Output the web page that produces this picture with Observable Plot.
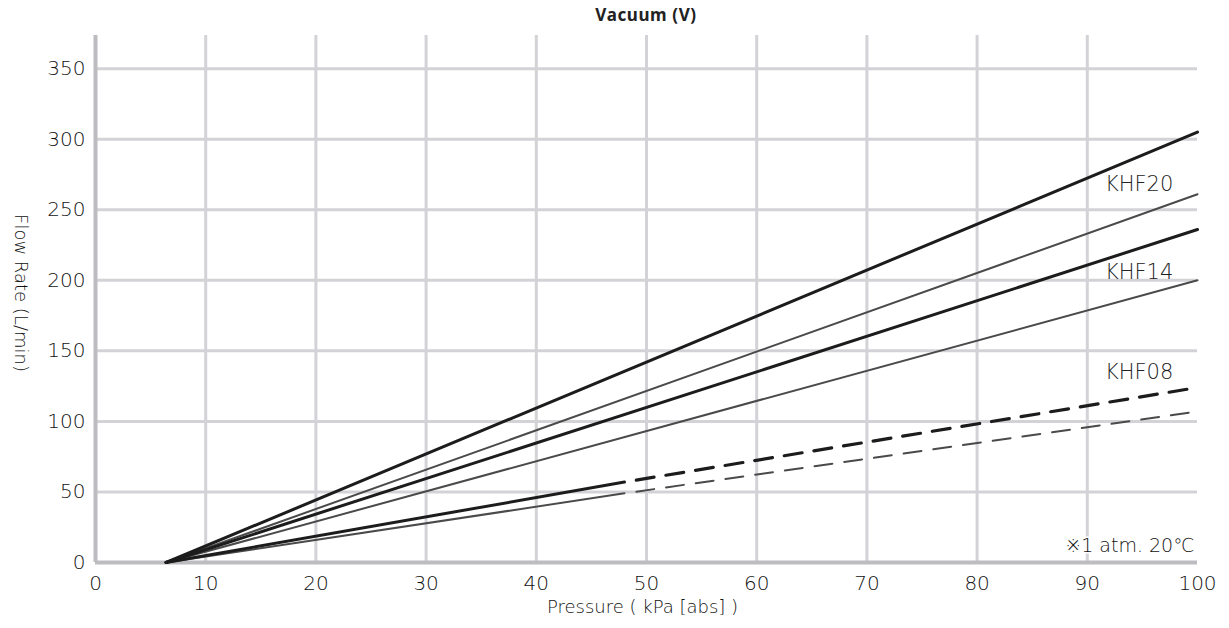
<!DOCTYPE html>
<html>
<head>
<meta charset="utf-8">
<script src="https://cdn.jsdelivr.net/npm/d3@7"></script>
<script src="https://cdn.jsdelivr.net/npm/@observablehq/plot@0.6"></script>
<style>
  html, body { margin: 0; padding: 0; background: #fff; }
  #title { width: 1229px; height: 35px; box-sizing: border-box; padding-left: 63px; padding-top: 3px;
           text-align: center; font: bold 17px "Noto Sans", "DejaVu Sans", sans-serif; letter-spacing: 0.6px; color: #222; }
  #chart svg { display: block; }
</style>
</head>
<body>
<div id="title">Vacuum (V)</div>
<div id="chart"></div>
<script>
// ---- data ----
const seriesNames = ["KHF20 a", "KHF20 b", "KHF14 a", "KHF14 b", "KHF08 a", "KHF08 b"];
const seriesWeight = ["thick", "thin", "thick", "thin", "thick", "thin"];
const startX = 6.4;               // all curves start at 0 L/min
const solidEndX = [100, 100, 100, 100, 48, 48];
const solidEndY = [305, 261, 236, 200, 57, 49];
const dashEndX = [null, null, null, null, 100, 100];
const dashEndY = [null, null, null, null, 124, 107];
const modelLabels = ["KHF20", "KHF14", "KHF08"];
const modelLabelY = [268, 206, 135];
const xTicks = [0, 10, 20, 30, 40, 50, 60, 70, 80, 90, 100];
const yTicks = [0, 50, 100, 150, 200, 250, 300, 350];
const note = "※1 atm. 20℃";

// ---- build tables ----
const solid = [];
const dashed = [];
seriesNames.forEach((s, i) => {
  solid.push({s, w: seriesWeight[i], x: startX, y: 0});
  solid.push({s, w: seriesWeight[i], x: solidEndX[i], y: solidEndY[i]});
  if (dashEndX[i] != null) {
    dashed.push({s, w: seriesWeight[i], x: solidEndX[i], y: solidEndY[i]});
    dashed.push({s, w: seriesWeight[i], x: dashEndX[i], y: dashEndY[i]});
  }
});
const labels = modelLabels.map((t, i) => ({t, y: modelLabelY[i]}));

const font = '"DejaVu Sans ExtraLight", "DejaVu Sans", sans-serif';
const gridColor = "#d3d3d7";
const ink = "#111";

const chart = Plot.plot({
  width: 1229,
  height: 593,
  marginTop: 0,
  marginLeft: 95,
  marginRight: 32,
  marginBottom: 66,
  style: {fontFamily: font, fontWeight: 200, fontSize: "20px", color: ink, background: "#fff"},
  x: {domain: [0, 100], ticks: xTicks, tickSize: 0, tickPadding: 13, label: null},
  y: {domain: [0, 373.5], ticks: yTicks, tickSize: 0, tickPadding: 10, label: null},
  marks: [
    Plot.ruleX(xTicks.filter(d => d > 0 && d < 100), {stroke: gridColor, strokeWidth: 3}),
    Plot.ruleY(yTicks.filter(d => d > 0), {x1: 0, x2: 100, stroke: gridColor, strokeWidth: 3}),
    Plot.ruleX([0], {stroke: "#bcbcc1", strokeWidth: 4}),
    Plot.ruleY([0], {x1: 0, x2: 100, stroke: "#bcbcc1", strokeWidth: 4}),
    Plot.axisX({ticks: xTicks, tickSize: 0, tickPadding: 13, fontSize: 20, letterSpacing: 1, fill: ink}),
    Plot.axisY({ticks: yTicks, tickSize: 0, tickPadding: 10, fontSize: 20, letterSpacing: 1, fill: ink}),
    Plot.line(solid.filter(d => d.w === "thin"), {x: "x", y: "y", z: "s", stroke: "#4a4a4a", strokeWidth: 2}),
    Plot.line(solid.filter(d => d.w === "thick"), {x: "x", y: "y", z: "s", stroke: "#1c1c1c", strokeWidth: 3}),
    Plot.line(dashed.filter(d => d.w === "thin"), {x: "x", y: "y", z: "s", stroke: "#4a4a4a", strokeWidth: 2, strokeDasharray: "18,12", strokeDashoffset: 18}),
    Plot.line(dashed.filter(d => d.w === "thick"), {x: "x", y: "y", z: "s", stroke: "#1c1c1c", strokeWidth: 3.2, strokeDasharray: "18,12", strokeDashoffset: 18}),
    Plot.text(labels, {x: 91.6, y: "y", text: "t", textAnchor: "start", fontSize: 21, letterSpacing: 1.5, fill: "#222"}),
    Plot.text([note], {x: 100, y: 12, text: d => d, textAnchor: "end", fontSize: 19, letterSpacing: 1.2, fill: ink, stroke: "#fff", strokeWidth: 3, paintOrder: "stroke", dx: -3}),
    Plot.text(["Flow Rate (L/min)"], {frameAnchor: "left", textAnchor: "middle", text: d => d, rotate: 90, dx: -75, dy: -6, fontSize: 18, letterSpacing: 1, fill: ink}),
    Plot.text(["Pressure ( kPa [abs] )"], {frameAnchor: "bottom", textAnchor: "middle", text: d => d, dx: -4, dy: 50, fontSize: 18, letterSpacing: 1.2, fill: ink})
  ]
});
document.getElementById("chart").appendChild(chart);
</script>
</body>
</html>
